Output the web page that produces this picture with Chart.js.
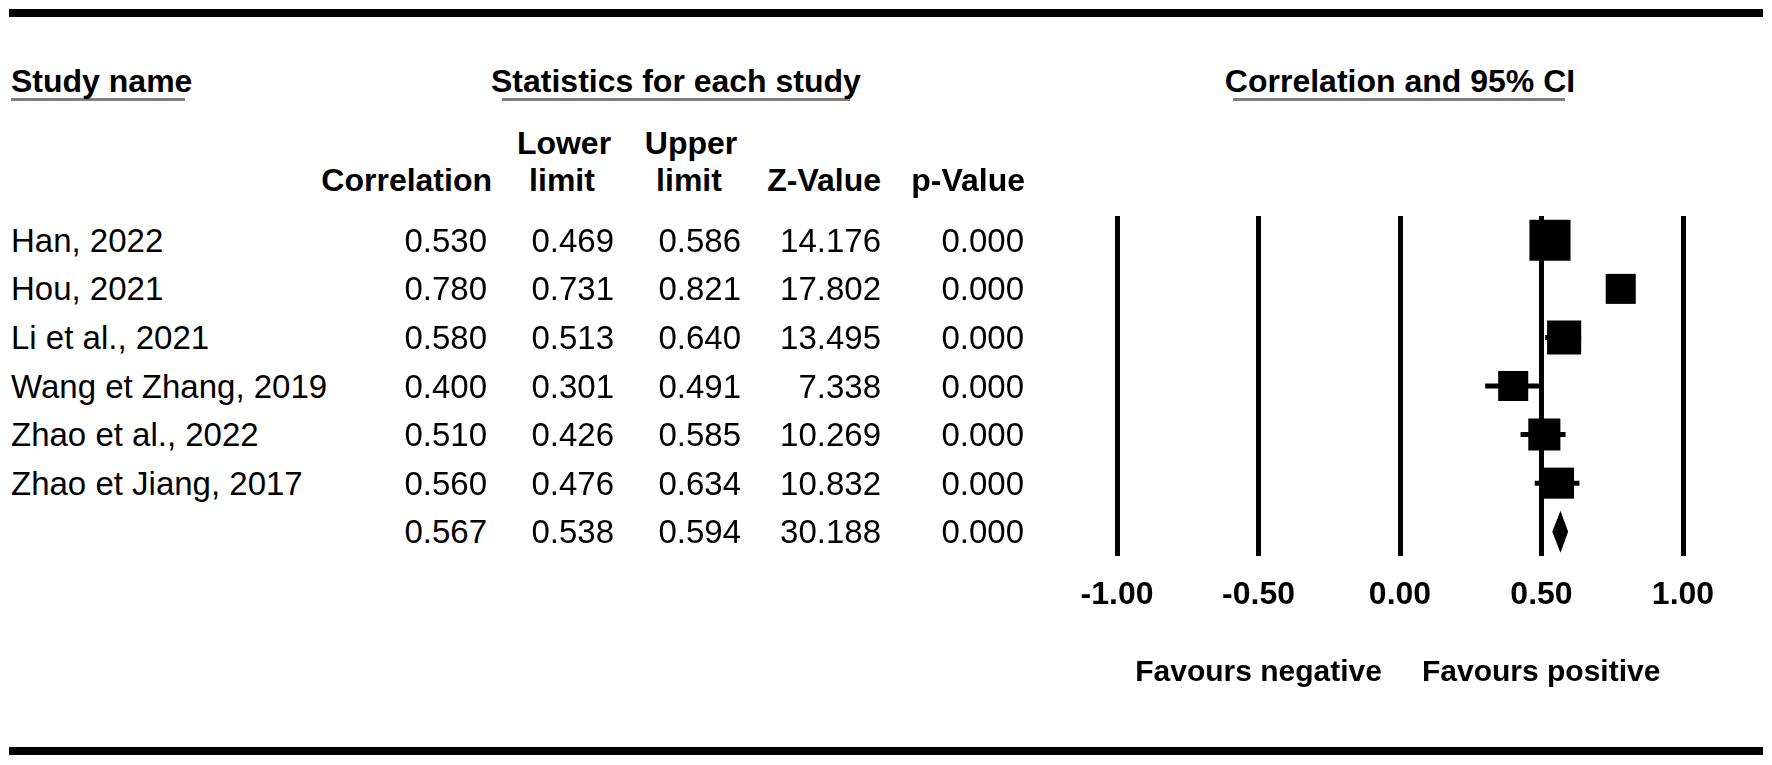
<!DOCTYPE html>
<html>
<head>
<meta charset="utf-8">
<script src="https://cdn.jsdelivr.net/npm/chart.js@4.4.1/dist/chart.umd.min.js"></script>
<style>
  html, body { margin: 0; padding: 0; background: #fff; }
  body { width: 1772px; height: 765px; position: relative; overflow: hidden;
         font-family: 'Liberation Sans', Arial, sans-serif; color: #000; }
  .rule { position: absolute; left: 9px; width: 1754px; height: 8px; background: #000; }
  .uline { position: absolute; top: 98px; height: 3px; background: #808080; }
  .txt { position: absolute; white-space: nowrap; font-size: 33px; line-height: 33px; }
  .bold { font-weight: bold; font-size: 32px; line-height: 32px; }
  .small { font-size: 30px; line-height: 30px; }
  #plotBox { position: absolute; left: 1000px; top: 150px; width: 772px; height: 520px; }
</style>
</head>
<body>
<div class="rule" style="top:9px"></div>
<div class="rule" style="top:747px"></div>
<div class="uline" style="left:11px; width:174px"></div>
<div class="uline" style="left:502px; width:348px"></div>
<div class="uline" style="left:1233px; width:332px"></div>
<div id="plotBox"><canvas id="forest"></canvas></div>
<script>
// Study data
const studies = ['Han, 2022', 'Hou, 2021', 'Li et al., 2021', 'Wang et Zhang, 2019', 'Zhao et al., 2022', 'Zhao et Jiang, 2017'];
const correlation = [0.530, 0.780, 0.580, 0.400, 0.510, 0.560];
const lower = [0.469, 0.731, 0.513, 0.301, 0.426, 0.476];
const upper = [0.586, 0.821, 0.640, 0.491, 0.585, 0.634];
const zValue = [14.176, 17.802, 13.495, 7.338, 10.269, 10.832];
const pValue = [0.000, 0.000, 0.000, 0.000, 0.000, 0.000];
// relative weights (%), estimated from the square sizes
const weights = [25.4, 13.6, 17.5, 13.6, 15.5, 14.5];

// Pooled result
const pooled = [0.567, 0.538, 0.594, 30.188, 0.000]; // correlation, lower, upper, Z, p

const xTickValues = [-1, -0.5, 0, 0.5, 1];
const xTickLabels = ['-1.00', '-0.50', '0.00', '0.50', '1.00'];

const FONT = "'Liberation Sans', Arial, sans-serif";
const BOX_LEFT = 1000;
const BOX_TOP = 150;

function addText(str, x, cy, align, cls) {
  const el = document.createElement('div');
  el.className = 'txt' + (cls ? ' ' + cls : '');
  el.textContent = str;
  document.body.appendChild(el);
  const h = parseFloat(getComputedStyle(el).lineHeight);
  el.style.top = (cy - h / 2) + 'px';
  if (align === 'left') {
    el.style.left = x + 'px';
  } else if (align === 'right') {
    el.style.right = (1772 - x) + 'px';
  } else {
    el.style.left = x + 'px';
    el.style.transform = 'translateX(-50%)';
  }
  return el;
}

// Whisker lines for each study's CI
const whiskers = studies.map((s, i) => ({
  type: 'scatter',
  showLine: true,
  data: [{ x: lower[i], y: i }, { x: upper[i], y: i }],
  borderColor: '#000',
  borderWidth: 5,
  borderCapStyle: 'butt',
  pointRadius: 0
}));

// Squares, area proportional to weight
const squares = {
  type: 'scatter',
  data: studies.map((s, i) => ({ x: correlation[i], y: i })),
  pointStyle: 'rect',
  pointRadius: weights.map(w => Math.sqrt(w) * 8.15 / Math.SQRT2),
  pointBackgroundColor: '#000',
  pointBorderWidth: 0
};

// Summary diamond drawn through the scales
const diamondPlugin = {
  id: 'summaryDiamond',
  afterDatasetsDraw(chart) {
    const { ctx, scales: { x, y } } = chart;
    const yc = y.getPixelForValue(studies.length);
    const half = 21;
    ctx.save();
    ctx.fillStyle = '#000';
    ctx.beginPath();
    ctx.moveTo(x.getPixelForValue(pooled[1]), yc);
    ctx.lineTo(x.getPixelForValue(pooled[0]), yc - half);
    ctx.lineTo(x.getPixelForValue(pooled[2]), yc);
    ctx.lineTo(x.getPixelForValue(pooled[0]), yc + half);
    ctx.closePath();
    ctx.fill();
    ctx.restore();
  }
};

const chart = new Chart(document.getElementById('forest'), {
  type: 'scatter',
  data: { datasets: [...whiskers, squares] },
  options: {
    responsive: true,
    maintainAspectRatio: false,
    animation: false,
    layout: { padding: { left: 117, right: 89, top: 66, bottom: 54 } },
    plugins: { legend: { display: false }, tooltip: { enabled: false } },
    scales: {
      x: {
        type: 'linear',
        min: -1,
        max: 1,
        afterBuildTicks: scale => { scale.ticks = xTickValues.map(v => ({ value: v })); },
        afterFit: scale => { scale.height = 60; },
        grid: { color: '#000', lineWidth: 5, drawTicks: false },
        border: { display: false },
        ticks: {
          padding: 20,
          color: '#000',
          autoSkip: false,
          maxRotation: 0,
          font: { family: FONT, size: 32, weight: 'bold' },
          callback: (v, i) => xTickLabels[i]
        }
      },
      y: {
        type: 'linear',
        min: -0.5,
        max: studies.length + 0.5,
        reverse: true,
        display: false
      }
    }
  },
  plugins: [diamondPlugin]
});

// Table text, aligned to the chart rows
const yScale = chart.scales.y;
const xScale = chart.scales.x;
const x0 = BOX_LEFT + xScale.getPixelForValue(0);

addText('Study name', 11, 81, 'left', 'bold');
addText('Statistics for each study', 491, 81, 'left', 'bold');
addText('Correlation and 95% CI', x0, 81, 'center', 'bold');

addText('Lower', 564, 143, 'center', 'bold');
addText('Upper', 691, 143, 'center', 'bold');
addText('Correlation', 492, 180, 'right', 'bold');
addText('limit', 562, 180, 'center', 'bold');
addText('limit', 689, 180, 'center', 'bold');
addText('Z-Value', 881, 180, 'right', 'bold');
addText('p-Value', 1025, 180, 'right', 'bold');

const colRight = [487, 614, 741, 881, 1024];
studies.forEach((name, i) => {
  const cy = BOX_TOP + yScale.getPixelForValue(i);
  addText(name, 11, cy, 'left');
  [correlation[i], lower[i], upper[i], zValue[i], pValue[i]].forEach((v, j) => {
    addText(v.toFixed(3), colRight[j], cy, 'right');
  });
});
const cyPooled = BOX_TOP + yScale.getPixelForValue(studies.length);
pooled.forEach((v, j) => addText(v.toFixed(3), colRight[j], cyPooled, 'right'));

addText('Favours negative', x0 - 18, 671, 'right', 'bold small');
addText('Favours positive', x0 + 22, 671, 'left', 'bold small');
</script>
</body>
</html>
